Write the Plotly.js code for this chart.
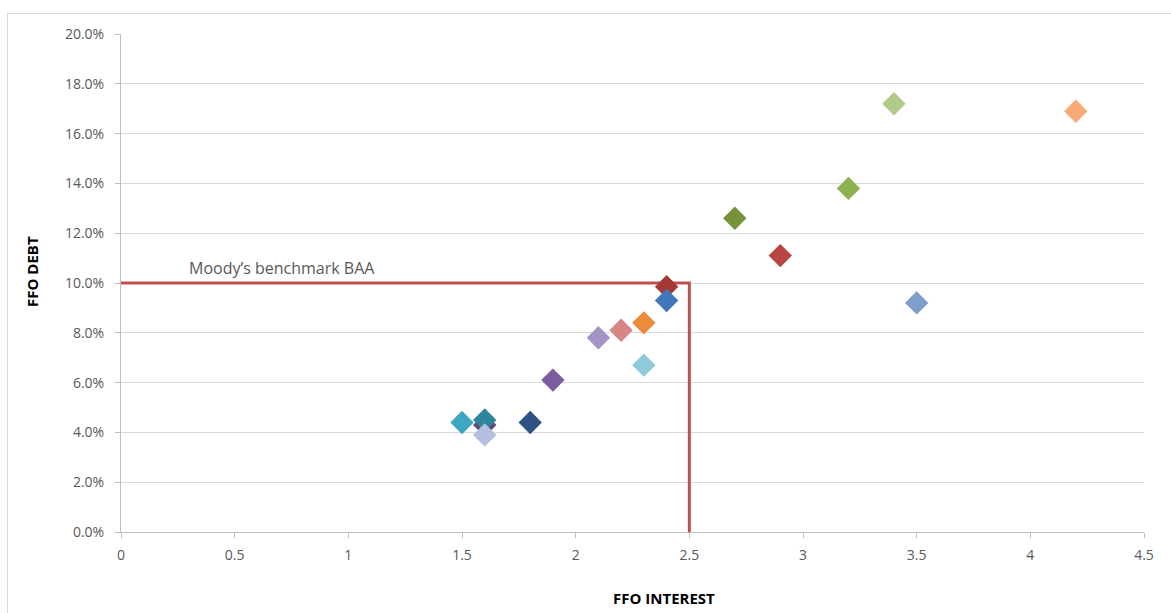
<!DOCTYPE html>
<html>
<head>
<meta charset="utf-8">
<script src="https://cdn.plot.ly/plotly-3.0.1.min.js"></script>
<style>
  html, body { margin: 0; padding: 0; background: #fff; overflow: hidden; }
  #wrap { position: relative; width: 1171px; height: 613px; }
  #chart { width: 1171px; height: 613px; }
  #frame { position: absolute; left: 7px; top: 13px; width: 1200px; height: 700px;
           border: 1px solid #d9d9d9; pointer-events: none; box-sizing: border-box; }
</style>
</head>
<body>
<div id="wrap">
  <div id="chart"></div>
  <div id="frame"></div>
</div>
<script>
// FFO interest coverage (x) vs FFO / debt (y)
const ffoInterest = [1.5, 1.6, 1.6, 1.6, 1.8, 1.9, 2.1, 2.2, 2.3, 2.3, 2.4, 2.4, 2.7, 2.9, 3.2, 3.4, 3.5, 4.2];
const ffoDebt     = [0.044, 0.043, 0.045, 0.039, 0.044, 0.061, 0.078, 0.081, 0.084, 0.067, 0.0985, 0.093, 0.126, 0.111, 0.138, 0.172, 0.092, 0.169];
const pointColors = ['#3FA6C0', '#5E4879', '#2F8599', '#B4BEDF', '#2D5283', '#7A5CA0', '#A593C5', '#D68684', '#EC8B3A', '#8FCADB', '#A33836', '#3F77BA', '#75933A', '#B84542', '#8DB14E', '#AFCB88', '#7E9FCE', '#F7A976'];

// Moody's benchmark BAA: FFO interest 2.5, FFO debt 10%
const benchmarkLabel = "Moody\u2019s benchmark BAA";
const benchmarkX = [0, 2.5, 2.5];
const benchmarkY = [0.10, 0.10, 0];

const xTicks = [0, 0.5, 1, 1.5, 2, 2.5, 3, 3.5, 4, 4.5];
const xTickText = ['0', '0.5', '1', '1.5', '2', '2.5', '3', '3.5', '4', '4.5'];
const yTicks = [0, 0.02, 0.04, 0.06, 0.08, 0.10, 0.12, 0.14, 0.16, 0.18, 0.20];

const tickFont = { family: 'Open Sans, sans-serif', size: 14, color: '#595959' };

const traces = [
  {
    x: benchmarkX, y: benchmarkY,
    type: 'scatter', mode: 'lines',
    line: { color: '#C0504D', width: 3 },
    cliponaxis: false,
    hoverinfo: 'skip', showlegend: false
  },
  {
    x: ffoInterest, y: ffoDebt,
    type: 'scatter', mode: 'markers',
    marker: { symbol: 'diamond', size: 18, color: pointColors, line: { width: 0 } },
    cliponaxis: false,
    showlegend: false
  }
];

const layout = {
  width: 1171, height: 613,
  margin: { l: 121, r: 27, t: 34, b: 81 },
  paper_bgcolor: 'rgba(0,0,0,0)',
  plot_bgcolor: '#ffffff',
  showlegend: false,
  xaxis: {
    range: [0, 4.5],
    tickvals: xTicks, ticktext: xTickText,
    showgrid: false, zeroline: false,
    showline: true, linecolor: '#bfbfbf', linewidth: 1,
    ticks: 'outside', ticklen: 5, tickcolor: '#bfbfbf',
    ticklabelstandoff: 5,
    tickfont: tickFont
  },
  yaxis: {
    range: [0, 0.2],
    tickvals: yTicks, tickformat: '.1%',
    showgrid: true, gridcolor: '#d9d9d9', gridwidth: 1,
    zeroline: false,
    showline: true, linecolor: '#bfbfbf', linewidth: 1,
    ticks: 'outside', ticklen: 5, tickcolor: '#bfbfbf',
    ticklabelstandoff: 8,
    tickfont: tickFont
  },
  annotations: [
    {
      text: benchmarkLabel, x: 0.29, y: 0.10, xref: 'x', yref: 'y',
      xanchor: 'left', yanchor: 'bottom', yshift: 2,
      showarrow: false,
      font: { family: 'Open Sans, sans-serif', size: 16, color: '#595959' }
    },
    {
      text: '<b>FFO INTEREST</b>',
      showarrow: false,
      font: { family: 'Open Sans, sans-serif', size: 15, color: '#000' }
    },
    {
      text: '<b>FFO DEBT</b>', textangle: -90,
      showarrow: false,
      font: { family: 'Open Sans, sans-serif', size: 15, color: '#000' }
    }
  ]
};

// position axis-title annotations in pixel terms converted to paper fractions
const plotW = 1171 - 121 - 27, plotH = 613 - 34 - 81;
layout.annotations[1].xref = 'paper'; layout.annotations[1].yref = 'paper';
layout.annotations[1].x = (664 - 121) / plotW;
layout.annotations[1].y = (532 - 598) / plotH;
layout.annotations[1].xanchor = 'center';
layout.annotations[1].yanchor = 'middle';
layout.annotations[2].xref = 'paper'; layout.annotations[2].yref = 'paper';
layout.annotations[2].x = (32 - 121) / plotW;
layout.annotations[2].y = (532 - 272) / plotH;
layout.annotations[2].xanchor = 'center';
layout.annotations[2].yanchor = 'middle';

Plotly.newPlot('chart', traces, layout, { displayModeBar: false, staticPlot: true });
</script>
</body>
</html>
